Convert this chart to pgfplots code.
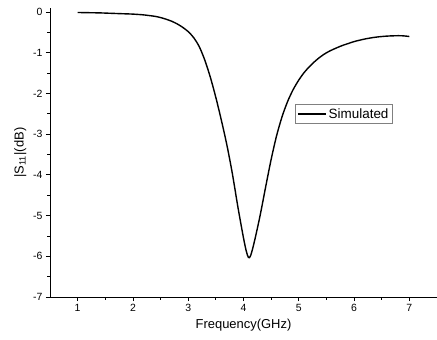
\documentclass[border=0pt]{standalone}
\usepackage{fontspec}
\setmainfont{Liberation Sans}
\usepackage{pgfplots}
\pgfplotsset{compat=1.18}
\begin{document}
\begin{tikzpicture}[x=1bp,y=1bp]
\begin{axis}[
 scale only axis, width=387bp, height=289bp,
 xmin=0.5, xmax=7.5, ymin=-7, ymax=0.1,
 axis x line*=bottom, axis y line*=left,
 axis line style={-, line width=0.9bp, black},
 xtick={1,...,7}, ytick={-7,...,0},
 minor x tick num=1, minor y tick num=1,
 tick align=outside,
 major tick length=4bp, minor tick length=2.5bp,
 every tick/.style={line width=0.8bp, black},
 /pgf/number format/assume math mode=true,
 ticklabel style={font=\fontsize{10.5}{12}\selectfont},
 label style={font=\fontsize{13}{15}\selectfont},
 xlabel={Frequency(GHz)},
 ylabel={|S\textsubscript{11}|(dB)},
 legend style={at={(0.633,0.667)}, anchor=north west, draw=gray, line width=0.6bp,
   font=\fontsize{13.5}{15}\selectfont, inner sep=2bp},
 legend image code/.code={\draw[#1] (0bp,0bp) -- (28bp,0bp);},
 clip=false,
]
\coordinate (bl) at (rel axis cs:0,0);
\addplot[black, line width=1.4bp, smooth, tension=0.5] coordinates {
(1.0,-0.01) (1.2,-0.015) (1.4,-0.02) (1.6,-0.03) (1.8,-0.04) (2.0,-0.05)
(2.2,-0.07) (2.4,-0.105) (2.5,-0.135) (2.6,-0.175) (2.7,-0.225) (2.8,-0.29)
(2.9,-0.375) (3.0,-0.48) (3.1,-0.63) (3.2,-0.85) (3.3,-1.18) (3.4,-1.60)
(3.5,-2.10) (3.6,-2.66) (3.7,-3.27) (3.8,-3.98) (3.9,-4.80) (4.0,-5.55)
(4.05,-5.87) (4.09,-6.03) (4.13,-5.98) (4.2,-5.62) (4.3,-5.00) (4.4,-4.30)
(4.5,-3.62) (4.6,-3.03) (4.7,-2.56) (4.8,-2.19) (4.9,-1.90) (5.0,-1.67)
(5.1,-1.48) (5.2,-1.33) (5.3,-1.20) (5.4,-1.09) (5.5,-1.00) (5.6,-0.93)
(5.7,-0.87) (5.8,-0.815) (5.9,-0.77) (6.0,-0.725) (6.2,-0.66) (6.4,-0.615)
(6.6,-0.59) (6.8,-0.58) (6.9,-0.585) (7.0,-0.60)
};
\addlegendentry{Simulated}
\end{axis}
\pgfresetboundingbox
\path (bl) ++(-50,-42) rectangle ++(437,339);
\end{tikzpicture}
\end{document}
